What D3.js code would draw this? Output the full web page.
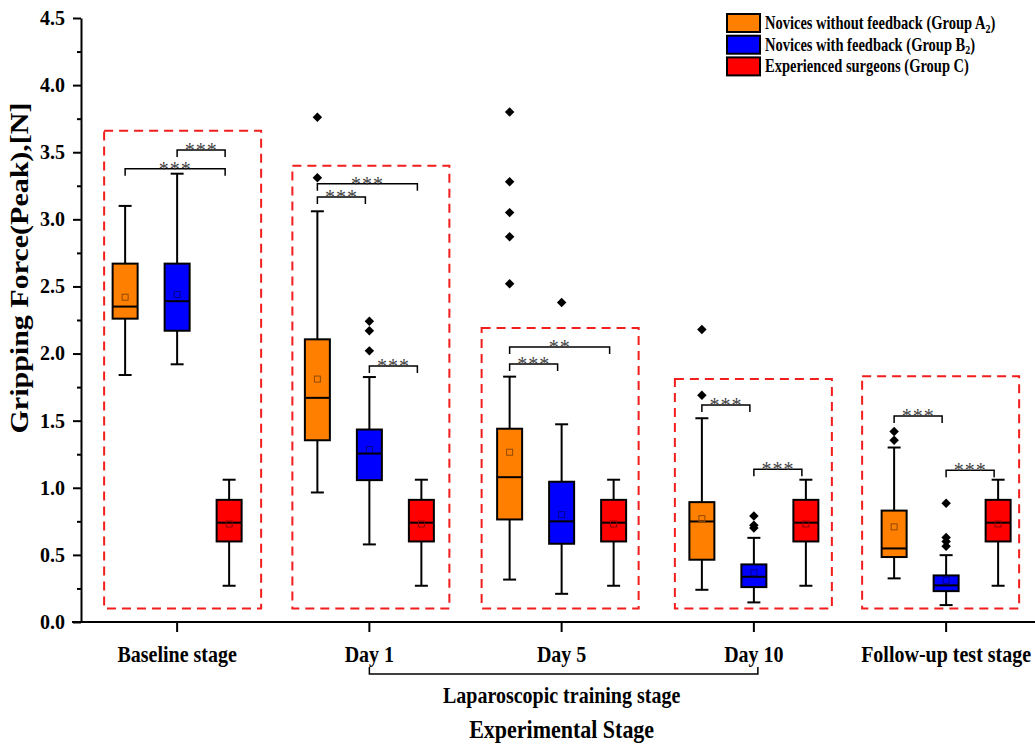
<!DOCTYPE html>
<html>
<head>
<meta charset="utf-8">
<script src="https://cdn.jsdelivr.net/npm/d3@7"></script>
<style>
  body { margin: 0; background: #fff; }
  svg { font-family: "Liberation Serif", "Times New Roman", serif; }
</style>
</head>
<body>
<div id="chart"></div>
<script>
// stages on the x axis
const stages = ['Baseline stage', 'Day 1', 'Day 5', 'Day 10', 'Follow-up test stage'];
// groups
const groups = ['A2', 'B2', 'C'];
const groupColors = ['#ff8000', '#0000ff', '#ff0000'];
// box stats per stage: [low whisker, Q1, median, Q3, high whisker, mean]
const statsA = [
  [1.84, 2.26, 2.35, 2.67, 3.10, 2.42],
  [0.965, 1.354, 1.67, 2.106, 3.06, 1.81],
  [0.316, 0.764, 1.079, 1.44, 1.828, 1.265],
  [0.24, 0.464, 0.749, 0.893, 1.518, 0.77],
  [0.325, 0.484, 0.548, 0.83, 1.30, 0.709],
];
const statsB = [
  [1.92, 2.17, 2.39, 2.67, 3.34, 2.44],
  [0.578, 1.057, 1.255, 1.434, 1.825, 1.285],
  [0.21, 0.583, 0.75, 1.045, 1.473, 0.80],
  [0.146, 0.26, 0.337, 0.429, 0.627, 0.367],
  [0.126, 0.23, 0.273, 0.347, 0.498, 0.31],
];
const statsC = [
  [0.27, 0.60, 0.74, 0.91, 1.06, 0.73],
  [0.27, 0.60, 0.74, 0.91, 1.06, 0.73],
  [0.27, 0.60, 0.74, 0.91, 1.06, 0.73],
  [0.27, 0.60, 0.74, 0.91, 1.06, 0.73],
  [0.27, 0.60, 0.74, 0.91, 1.06, 0.73],
];
// outliers per stage
const outliersA = [[], [3.76, 3.31], [3.80, 3.28, 3.05, 2.87, 2.52], [2.18, 1.69], [1.42, 1.354]];
const outliersB = [[], [2.24, 2.17, 2.02], [2.38], [0.79, 0.72, 0.70], [0.885, 0.63, 0.60, 0.565]];
const outliersC = [[], [], [], [], []];
// dashed stage frames (value range)
const frameTop = [3.66, 3.40, 2.19, 1.81, 1.83];
const frameBottom = [0.1, 0.1, 0.1, 0.1, 0.1];
// significance brackets: stage, group from, group to, level, label
const sigStage = [0, 0, 1, 1, 1, 2, 2, 3, 3, 4, 4];
const sigFrom = ['A2', 'B2', 'A2', 'A2', 'B2', 'A2', 'A2', 'A2', 'B2', 'A2', 'B2'];
const sigTo = ['C', 'C', 'B2', 'C', 'C', 'B2', 'C', 'B2', 'C', 'B2', 'C'];
const sigLevel = [3.376, 3.517, 3.167, 3.266, 1.908, 1.922, 2.049, 1.617, 1.138, 1.535, 1.13];
const sigLabel = ['***', '***', '***', '***', '***', '***', '**', '***', '***', '***', '***'];
const yMajor = [0, 0.5, 1, 1.5, 2, 2.5, 3, 3.5, 4, 4.5];
const yMinor = [0.25, 0.75, 1.25, 1.75, 2.25, 2.75, 3.25, 3.75, 4.25];
const legendNames = [
  ['Novices without feedback (Group A', '2', ')'],
  ['Novices with feedback (Group B', '2', ')'],
  ['Experienced surgeons (Group C)', '', ''],
];

// layout
const width = 1035;
const height = 747;
const boxW = 25;
const capW = 13;
const frameShift = [-73, -77, -80, -79, -84];
const frameW = 157;
const serif = '"Liberation Serif", "Times New Roman", serif';

const svg = d3
  .select('#chart')
  .append('svg')
  .attr('width', width)
  .attr('height', height);

const x = d3.scaleBand().domain(stages).range([81, 1042.25]);
const y = d3.scaleLinear().domain([0, 4.5]).range([622, 18]);
const off = d3.scalePoint().domain(groups).range([-52, 52]);
const color = d3.scaleOrdinal().domain(groups).range(groupColors);
const cx = (s) => x(s) + x.bandwidth() / 2;

// build box records
const boxes = [];
const allStats = [statsA, statsB, statsC];
const allOut = [outliersA, outliersB, outliersC];
stages.forEach((s, i) => {
  groups.forEach((g, j) => {
    const [lo, q1, med, q3, hi, mean] = allStats[j][i];
    boxes.push({ s, g, lo, q1, med, q3, hi, mean, out: allOut[j][i], px: cx(s) + off(g) });
  });
});

// dashed frames
svg
  .append('g')
  .selectAll('rect')
  .data(stages)
  .join('rect')
  .attr('x', (d, i) => cx(d) + frameShift[i])
  .attr('y', (d, i) => y(frameTop[i]))
  .attr('width', frameW)
  .attr('height', (d, i) => y(frameBottom[i]) - y(frameTop[i]))
  .attr('fill', 'none')
  .attr('stroke', '#f21d1d')
  .attr('stroke-width', 2)
  .attr('stroke-dasharray', '9,6');

// axes
const gy = svg.append('g').attr('transform', 'translate(81,0)');
gy.append('g')
  .call(d3.axisLeft(y).tickValues(yMinor).tickSize(4).tickSizeOuter(0).tickFormat(''))
  .call((g) => g.select('.domain').remove());
gy.append('g')
  .call(d3.axisLeft(y).tickValues(yMajor).tickSize(8).tickSizeOuter(0).tickPadding(8).tickFormat(d3.format('.1f')));
gy.selectAll('g').attr('font-family', serif);
gy.selectAll('line, path').attr('stroke-width', 2);
gy.selectAll('text').attr('font-size', 20).attr('font-weight', 'bold').attr('fill', '#000');

const gx = svg
  .append('g')
  .attr('transform', `translate(0,${y(0)})`)
  .call(d3.axisBottom(x).tickSize(10).tickSizeOuter(0))
  .attr('font-family', serif);
gx.select('.domain').attr('d', `M72,0H${width}`);
gx.selectAll('line, path').attr('stroke-width', 2);
gx.selectAll('text')
  .attr('y', 0)
  .attr('dy', null)
  .attr('transform', 'translate(0,40) scale(1,1.15)')
  .attr('font-size', 20)
  .attr('font-weight', 'bold')
  .attr('fill', '#000');

// training stage bracket
svg
  .append('path')
  .attr('d', `M${cx('Day 1')},667V674H${cx('Day 10') + 4}V667`)
  .attr('fill', 'none')
  .attr('stroke', '#000')
  .attr('stroke-width', 1.5);

svg
  .append('text')
  .attr('transform', `translate(${cx('Day 5')},703) scale(1,1.15)`)
  .attr('text-anchor', 'middle')
  .attr('font-size', 20)
  .attr('font-weight', 'bold')
  .text('Laparoscopic training stage');

svg
  .append('text')
  .attr('transform', `translate(${cx('Day 5')},738) scale(1,1.15)`)
  .attr('text-anchor', 'middle')
  .attr('font-size', 22)
  .attr('font-weight', 'bold')
  .text('Experimental Stage');

svg
  .append('text')
  .attr('transform', 'translate(28,268) rotate(-90) scale(1.2,1)')
  .attr('text-anchor', 'middle')
  .attr('font-size', 25)
  .attr('font-weight', 'bold')
  .text('Gripping Force(Peak),[N]');

// boxes
const box = svg.append('g').selectAll('g').data(boxes).join('g');

box
  .append('line')
  .attr('x1', (d) => d.px)
  .attr('x2', (d) => d.px)
  .attr('y1', (d) => y(d.lo))
  .attr('y2', (d) => y(d.hi))
  .attr('stroke', '#000')
  .attr('stroke-width', 2);

box
  .selectAll('.cap')
  .data((d) => [d.lo, d.hi].map((v) => ({ v, px: d.px })))
  .join('line')
  .attr('class', 'cap')
  .attr('x1', (d) => d.px - capW / 2)
  .attr('x2', (d) => d.px + capW / 2)
  .attr('y1', (d) => y(d.v))
  .attr('y2', (d) => y(d.v))
  .attr('stroke', '#000')
  .attr('stroke-width', 2);

box
  .append('rect')
  .attr('x', (d) => d.px - boxW / 2)
  .attr('y', (d) => y(d.q3))
  .attr('width', boxW)
  .attr('height', (d) => y(d.q1) - y(d.q3))
  .attr('fill', (d) => color(d.g))
  .attr('stroke', '#000')
  .attr('stroke-width', 2);

box
  .append('line')
  .attr('x1', (d) => d.px - boxW / 2)
  .attr('x2', (d) => d.px + boxW / 2)
  .attr('y1', (d) => y(d.med))
  .attr('y2', (d) => y(d.med))
  .attr('stroke', '#000')
  .attr('stroke-width', 2);

box
  .append('rect')
  .attr('x', (d) => d.px - 3)
  .attr('y', (d) => y(d.mean) - 3)
  .attr('width', 6)
  .attr('height', 6)
  .attr('fill', 'none')
  .attr('stroke', (d) => d3.color(color(d.g)).darker(1.6))
  .attr('stroke-width', 1);

box
  .selectAll('.out')
  .data((d) => d.out.map((v) => ({ v, px: d.px })))
  .join('path')
  .attr('class', 'out')
  .attr('d', d3.symbol(d3.symbolSquare, 45))
  .attr('transform', (d) => `translate(${d.px},${y(d.v)}) rotate(45)`)
  .attr('fill', '#000');

// significance brackets
const sig = svg
  .append('g')
  .selectAll('g')
  .data(sigLevel.map((v, i) => ({
    x1: cx(stages[sigStage[i]]) + off(sigFrom[i]),
    x2: cx(stages[sigStage[i]]) + off(sigTo[i]) - 4,
    v,
    label: sigLabel[i],
  })))
  .join('g');

sig
  .append('path')
  .attr('d', (d) => `M${d.x1},${y(d.v) + 7}V${y(d.v)}H${d.x2}V${y(d.v) + 7}`)
  .attr('fill', 'none')
  .attr('stroke', '#000')
  .attr('stroke-width', 1.5);

sig
  .append('text')
  .attr('x', (d) => (d.x1 + d.x2) / 2)
  .attr('y', (d) => y(d.v) + 7)
  .attr('text-anchor', 'middle')
  .attr('font-size', 20)
  .attr('letter-spacing', 1)
  .attr('fill', '#444')
  .text((d) => d.label);

// legend
const legend = svg
  .append('g')
  .attr('transform', 'translate(727,14)')
  .selectAll('g')
  .data(groups)
  .join('g')
  .attr('transform', (d, i) => `translate(0,${i * 21.7})`);

legend
  .append('rect')
  .attr('width', 33)
  .attr('height', 18)
  .attr('fill', (d) => color(d))
  .attr('stroke', '#000')
  .attr('stroke-width', 2);

const lt = legend
  .append('text')
  .attr('transform', 'translate(38,15) scale(1,1.25)')
  .attr('font-size', 14.5)
  .attr('font-weight', 'bold');
lt.append('tspan').text((d, i) => legendNames[i][0]);
lt.append('tspan').attr('dy', 3).attr('font-size', 10).text((d, i) => legendNames[i][1]);
lt.append('tspan').attr('dy', (d, i) => (legendNames[i][1] ? -3 : 0)).text((d, i) => legendNames[i][2]);
</script>
</body>
</html>
